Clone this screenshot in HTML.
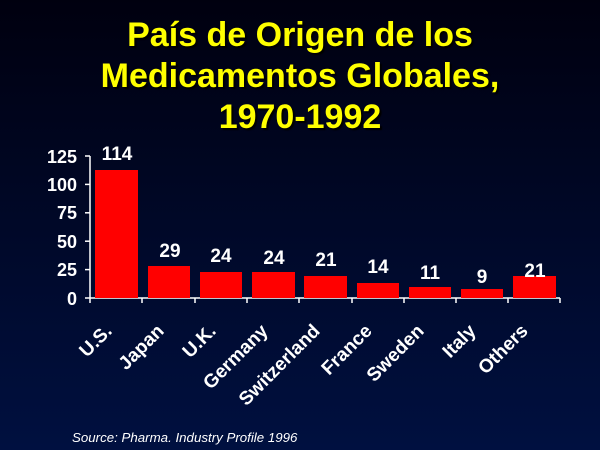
<!DOCTYPE html>
<html><head><meta charset="utf-8"><style>
html,body{margin:0;padding:0}
body{width:600px;height:450px;overflow:hidden;background:linear-gradient(#00000f 0%,#000828 50%,#001040 100%)}
svg{display:block}
</style></head><body>
<svg width="600" height="450" xmlns="http://www.w3.org/2000/svg" font-family="Liberation Sans, sans-serif" font-weight="bold">
<g fill="#ffff00" font-size="34" text-anchor="middle" style="text-shadow:2px 2px 1px #000">
<text x="300" y="46">País de Origen de los</text>
<text x="300" y="87">Medicamentos Globales,</text>
<text x="300" y="128">1970-1992</text>
</g>
<g stroke="#fff" stroke-width="1.5">
<line x1="90" y1="156" x2="90" y2="298"/>
<line x1="90" y1="298" x2="560" y2="298"/>
<line x1="85" y1="156" x2="90" y2="156"/>
<line x1="85" y1="184.4" x2="90" y2="184.4"/>
<line x1="85" y1="212.8" x2="90" y2="212.8"/>
<line x1="85" y1="241.2" x2="90" y2="241.2"/>
<line x1="85" y1="269.6" x2="90" y2="269.6"/>
<line x1="85" y1="298" x2="90" y2="298"/>
<line x1="90" y1="298" x2="90" y2="303"/><line x1="142" y1="298" x2="142" y2="303"/><line x1="195" y1="298" x2="195" y2="303"/><line x1="247" y1="298" x2="247" y2="303"/><line x1="299" y1="298" x2="299" y2="303"/><line x1="352" y1="298" x2="352" y2="303"/><line x1="404" y1="298" x2="404" y2="303"/><line x1="456" y1="298" x2="456" y2="303"/><line x1="508" y1="298" x2="508" y2="303"/><line x1="560" y1="298" x2="560" y2="303"/>
</g>
<g fill="#fff" font-size="18" text-anchor="end">
<text x="77" y="163">125</text><text x="77" y="191">100</text><text x="77" y="219">75</text><text x="77" y="248">50</text><text x="77" y="276">25</text><text x="77" y="305">0</text>
</g>
<g fill="#ff0000">
<rect x="95" y="170" width="43" height="128"/>
<rect x="148" y="266" width="42" height="32"/>
<rect x="200" y="272" width="42" height="26"/>
<rect x="252" y="272" width="43" height="26"/>
<rect x="304" y="276" width="43" height="22"/>
<rect x="357" y="283" width="42" height="15"/>
<rect x="409" y="287" width="42" height="11"/>
<rect x="461" y="289" width="42" height="9"/>
<rect x="513" y="276" width="43" height="22"/>
</g>
<g fill="#fff" font-size="19" text-anchor="middle">
<text x="117" y="160">114</text><text x="170" y="257">29</text><text x="221" y="262">24</text><text x="274" y="264">24</text><text x="326" y="266">21</text><text x="378" y="273">14</text><text x="430" y="279">11</text><text x="482" y="283">9</text><text x="535" y="277">21</text>
</g>
<g fill="#fff" font-size="19" text-anchor="end">
<text transform="translate(113,332) rotate(-45)">U.S.</text>
<text transform="translate(165,332) rotate(-45)">Japan</text>
<text transform="translate(217,332) rotate(-45)">U.K.</text>
<text transform="translate(269,332) rotate(-45)">Germany</text>
<text transform="translate(321,332) rotate(-45)">Switzerland</text>
<text transform="translate(373,332) rotate(-45)">France</text>
<text transform="translate(425,332) rotate(-45)">Sweden</text>
<text transform="translate(477,332) rotate(-45)">Italy</text>
<text transform="translate(529,332) rotate(-45)">Others</text>
</g>
<text x="72" y="442" fill="#fff" font-size="13.3" font-weight="normal" font-style="italic">Source: Pharma. Industry Profile 1996</text>
</svg>
</body></html>
